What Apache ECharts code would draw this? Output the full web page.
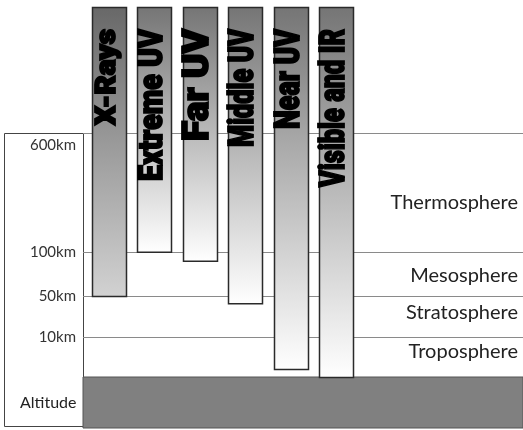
<!DOCTYPE html>
<html>
<head>
<meta charset="utf-8">
<script src="https://cdn.jsdelivr.net/npm/echarts@6/dist/echarts.min.js"></script>
<style>html,body{margin:0;padding:0;background:#fff}#c{width:523px;height:430px}</style>
</head>
<body>
<div id="c"></div>
<script>
// ---- data ----
const bands = ['X-Rays', 'Extreme UV', 'Far UV', 'Middle UV', 'Near UV', 'Visible and IR'];
const absorbedKm = [50, 101, 90, 43, 2, 0];          // altitude (km) where each band is absorbed
const tickKm = [10, 50, 100, 600];
const tickLabels = ['10km', '50km', '100km', '600km'];
const layerNames = ['Troposphere', 'Stratosphere', 'Mesosphere', 'Thermosphere'];
const layerBottomKm = [0, 10, 50, 100];
const layerTopKm = [10, 50, 100, 600];
const groundLabel = 'Altitude';

// ---- label styling (word-art style fitted text) ----
const bandFontSize = [27, 34, 36, 35, 35, 35];
const bandTextLength = [96, 152, 112, 118, 100, 158];

// ---- piecewise altitude scale (km -> axis units) ----
const scaleKm = [0, 10, 50, 100, 600];
const scaleUnits = [0, 0.96, 1.944, 3, 5.856];
function toUnit(km) {
  for (let i = 1; i < scaleKm.length; i++) {
    if (km <= scaleKm[i]) {
      const t = (km - scaleKm[i - 1]) / (scaleKm[i] - scaleKm[i - 1]);
      return scaleUnits[i - 1] + t * (scaleUnits[i] - scaleUnits[i - 1]);
    }
  }
  return scaleUnits[scaleUnits.length - 1];
}
const Y_MIN = -1.224, Y_MAX = 8.88;

const measureCtx = document.createElement('canvas').getContext('2d');
function bandFont(i) { return '900 ' + bandFontSize[i] + 'px Roboto, Lato, sans-serif'; }
function bandScale(i) {
  measureCtx.font = bandFont(i);
  const w = measureCtx.measureText(bands[i]).width;
  return bandTextLength[i] / w;
}

const chart = echarts.init(document.getElementById('c'), null, {renderer: 'canvas'});

const labelFont = 'Lato, "Open Sans", sans-serif';

const option = {
  animation: false,
  grid: [
    {left: 83, right: 0, top: 7, bottom: 2},
    {left: 86, width: 273, top: 7, bottom: 2}
  ],
  xAxis: [
    {gridIndex: 0, type: 'value', min: 0, max: 1, show: false},
    {gridIndex: 1, type: 'category', data: bands, show: false}
  ],
  yAxis: [
    {gridIndex: 0, type: 'value', min: Y_MIN, max: Y_MAX, show: false},
    {gridIndex: 1, type: 'value', min: Y_MIN, max: Y_MAX, show: false}
  ],
  series: [
    {
      type: 'line', xAxisIndex: 0, yAxisIndex: 0, data: [], silent: true,
      markLine: {
        silent: true, symbol: 'none', animation: false,
        lineStyle: {color: '#8a8a8a', width: 1, type: 'solid'},
        label: {
          position: 'start', distance: 7, color: '#333',
          fontFamily: labelFont, fontSize: 15,
          formatter: p => p.name
        },
        emphasis: {disabled: true},
        data: tickKm.map((km, i) => ({
          name: tickLabels[i], yAxis: toUnit(km),
          label: i === tickKm.length - 1 ? {offset: [0, 12]} : {}
        }))
      },
      markArea: {
        silent: true, animation: false,
        emphasis: {disabled: true},
        data: layerNames.map((n, i) => [
          {name: n, yAxis: toUnit(layerBottomKm[i]), itemStyle: {color: 'rgba(0,0,0,0)'},
           label: {show: true, position: 'insideRight', color: '#222', fontFamily: labelFont, fontSize: 20,
                   distance: 5, offset: [0, [-5, -4, 2, 10][i]]}},
          {yAxis: toUnit(layerTopKm[i])}
        ]).concat([[
          {name: groundLabel, yAxis: Y_MIN, itemStyle: {color: '#808080', borderColor: '#555', borderWidth: 1},
           label: {show: true, position: 'left', distance: 6, color: '#222', fontFamily: labelFont, fontSize: 16}},
          {yAxis: 0}
        ]])
      }
    },
    {
      type: 'custom', xAxisIndex: 1, yAxisIndex: 1, z: 10,
      data: bands.map((b, i) => [i, toUnit(absorbedKm[i]), Y_MAX]),
      renderItem: function (params, api) {
        const i = api.value(0);
        const top = api.coord([i, api.value(2)]);
        const bot = api.coord([i, api.value(1)]);
        const w = api.size([1, 0])[0] * 0.75;
        const dark = i === 0;
        return {
          type: 'group',
          children: [
            {
              type: 'rect',
              shape: {x: Math.round(top[0] - w / 2) + 0.5, y: top[1] + 0.5, width: Math.round(w), height: bot[1] - top[1]},
              style: {
                fill: new echarts.graphic.LinearGradient(0, 0, 0, 1, dark
                  ? [{offset: 0, color: '#686868'}, {offset: 1, color: '#d2d2d2'}]
                  : [{offset: 0, color: '#757575'}, {offset: 1, color: '#ffffff'}]),
                stroke: '#2a2a2a', lineWidth: 1.5
              }
            },
            {
              type: 'text',
              x: top[0] - 1, y: top[1] + 22, rotation: Math.PI / 2, scaleX: bandScale(i),
              style: {
                text: bands[i], align: 'right', verticalAlign: 'middle',
                fill: '#000', stroke: '#000', lineWidth: 1.8, lineJoin: 'round',
                font: bandFont(i)
              }
            }
          ]
        };
      }
    }
  ]
};
chart.setOption(option);

// label box on the left, aligned to the top scale line
const yTop = chart.convertToPixel({yAxisIndex: 0}, toUnit(600));
const yBot = chart.convertToPixel({yAxisIndex: 0}, Y_MIN);
chart.setOption({
  graphic: [{
    type: 'rect', z: -1, silent: true,
    shape: {x: 4.5, y: Math.round(yTop) + 0.5, width: 79, height: Math.round(yBot - yTop) - 2},
    style: {fill: '#fff', stroke: '#444', lineWidth: 1}
  }]
});
</script>
</body>
</html>
